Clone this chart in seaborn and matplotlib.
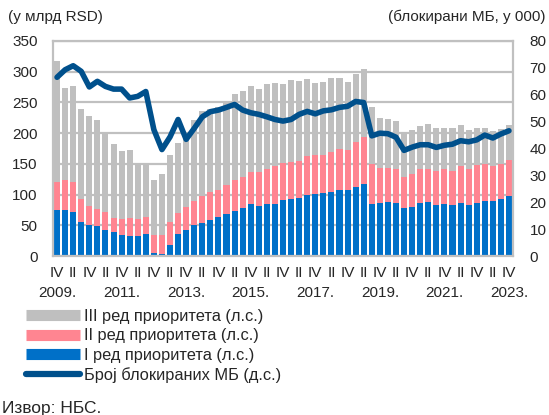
import numpy as np
import pandas as pd
import matplotlib
matplotlib.use("Agg")
import matplotlib.pyplot as plt
from matplotlib.lines import Line2D
from matplotlib.transforms import blended_transform_factory
import seaborn as sns

# Quarterly observations, 2009 Q4 - 2023 Q4
quarters = [str(p) for p in pd.period_range("2009Q4", "2023Q4", freq="Q")]

# Claims by priority tier (RSD bn, left scale)
tier_1 = [75, 75, 72, 56, 51, 49, 42, 39, 35, 33,
          33, 36, 5, 3, 18, 36, 43, 50, 53, 59,
          63, 68, 73, 78, 84, 82, 84, 85, 91, 93,
          94, 99, 101, 102, 104, 108, 108, 113, 117, 84,
          86, 88, 87, 78, 80, 86, 88, 83, 84, 83,
          86, 83, 87, 90, 89, 92, 98]
tier_2 = [46, 48, 48, 37, 31, 28, 29, 23, 25, 29,
          28, 28, 29, 32, 37, 34, 37, 40, 45, 46,
          45, 48, 51, 50, 53, 55, 57, 61, 60, 60,
          61, 63, 63, 63, 66, 66, 64, 73, 76, 66,
          57, 55, 54, 51, 54, 55, 54, 56, 57, 56,
          60, 59, 61, 59, 57, 57, 59]
tier_3 = [197, 151, 157, 146, 146, 145, 129, 120, 111, 111,
          89, 86, 89, 99, 109, 114, 120, 131, 138, 135,
          135, 135, 140, 141, 140, 135, 139, 135, 129, 134,
          130, 126, 118, 119, 119, 116, 111, 111, 112, 92,
          81, 80, 79, 73, 71, 71, 73, 69, 68, 69,
          68, 63, 60, 60, 57, 58, 56]

# Number of blocked legal entities (thousands, right scale)
blocked = [66.5, 69.3, 70.8, 68.7, 62.9, 65.0, 63.1, 62.1, 62.1, 58.8,
           59.4, 61.2, 47.0, 39.6, 44.3, 50.8, 43.4, 47.5, 51.8, 53.7,
           54.3, 55.3, 56.4, 54.3, 53.3, 52.7, 51.8, 50.8, 50.2, 50.8,
           52.7, 53.8, 52.9, 54.0, 54.4, 55.3, 55.7, 57.5, 57.1, 44.7,
           45.7, 45.5, 44.2, 39.3, 40.5, 41.4, 41.4, 40.4, 41.2, 41.6,
           42.9, 42.5, 43.2, 45.0, 43.9, 45.4, 46.6]

legend_labels = ["III ред приоритета (л.с.)", "II ред приоритета (л.с.)",
                 "I ред приоритета (л.с.)", "Број блокираних МБ (д.с.)"]

GRAY = "#BFBFBF"
PINK = "#FF8591"
BLUE = "#0070C8"
NAVY = "#00508C"
FRAME = "#C0C0C0"

df = pd.DataFrame({"quarter": quarters, "t1": tier_1, "t2": tier_2, "t3": tier_3})
df["t12"] = df["t1"] + df["t2"]
df["total"] = df["t12"] + df["t3"]

sns.set_theme(style="white")
plt.rcParams["font.family"] = ["Liberation Sans", "DejaVu Sans"]
FS = 11
FS_LEG = 11.8
FS_SRC = 12.5

W, H = 549, 415
fig = plt.figure(figsize=(W / 100, H / 100), dpi=100)
ax = fig.add_axes([53 / W, 1 - 256 / H, 460 / W, 215 / H])

for col, colr in [("total", GRAY), ("t12", PINK), ("t1", BLUE)]:
    sns.barplot(data=df, x="quarter", y=col, color=colr, saturation=1,
                width=0.75, order=quarters, ax=ax, linewidth=0)

ax.set_xlim(-0.5, len(quarters) - 0.5)
ax.set_ylim(0, 350)
ax.set_yticks(np.arange(0, 351, 50))
ax.yaxis.grid(True, color=FRAME, lw=1.6)
ax.set_axisbelow(True)
ax.set_xlabel("")
ax.set_ylabel("")
for s in ax.spines.values():
    s.set_color(FRAME)
    s.set_linewidth(1.6)

# x tick labels: every second quarter; year under Q4 of odd years
ticks, tlabels, years = [], [], []
for i, q in enumerate(quarters):
    if i % 2:
        continue
    yr, qn = q.split("Q")
    ticks.append(i)
    tlabels.append("IV" if qn == "4" else "II")
    if qn == "4" and int(yr) % 2 == 1:
        years.append((i, f"{yr}."))
ax.set_xticks(ticks)
ax.set_xticklabels(tlabels, fontsize=FS)
ax.tick_params(axis="x", length=0, pad=7)
ax.tick_params(axis="y", length=0, pad=11, labelsize=FS)

trans = blended_transform_factory(ax.transData, fig.transFigure)
for i, lab in years:
    ax.text(i, 1 - 293 / H, lab, transform=trans, fontsize=FS,
            ha="center", va="center")

ax2 = ax.twinx()
sns.lineplot(x=np.arange(len(quarters)), y=blocked, ax=ax2, color=NAVY,
             lw=4, solid_joinstyle="round", solid_capstyle="round")
ax2.set_ylim(0, 80)
ax2.set_yticks(np.arange(0, 81, 10))
ax2.tick_params(axis="y", length=0, pad=12, labelsize=FS)
for s in ax2.spines.values():
    s.set_visible(False)
ax2.set_xlim(-0.5, len(quarters) - 0.5)

fig.text(8 / W, 1 - 17 / H, "(у млрд RSD)", fontsize=FS, va="center", ha="left")
fig.text(545 / W, 1 - 17 / H, "(блокирани МБ, у 000)", fontsize=FS,
         va="center", ha="right")

handles = [Line2D([], [], color=GRAY, lw=8, solid_capstyle="butt"),
           Line2D([], [], color=PINK, lw=8, solid_capstyle="butt"),
           Line2D([], [], color=BLUE, lw=8, solid_capstyle="butt"),
           Line2D([], [], color=NAVY, lw=4.5, solid_capstyle="round")]
fig.legend(handles, legend_labels, loc="upper left",
           bbox_to_anchor=(26 / W, 1 - 309 / H), frameon=False, fontsize=FS_LEG,
           handlelength=3.3, handletextpad=0.25, labelspacing=0.27,
           borderaxespad=0, borderpad=0)

fig.text(2 / W, 1 - 408 / H, "Извор: НБС.", fontsize=FS_SRC, va="center", ha="left")

fig.savefig("out.png", dpi=100)
